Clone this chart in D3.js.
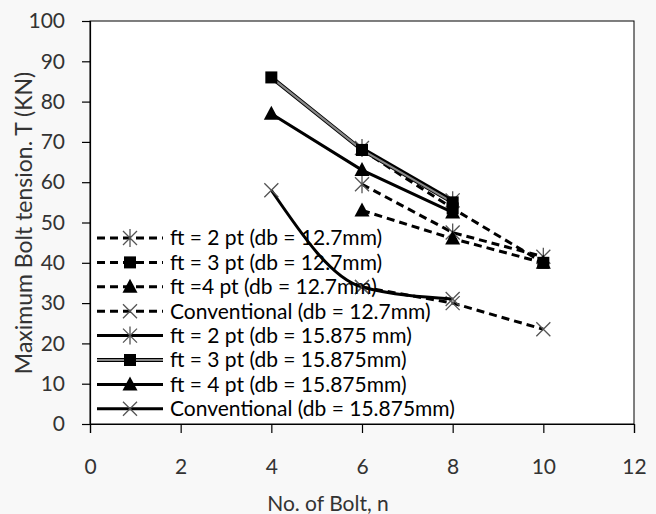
<!DOCTYPE html>
<meta charset="utf-8">
<head>
<script src="https://d3js.org/d3.v7.min.js"></script>
<style>
  body { margin: 0; background: #f8f8f8; font-family: Lato, "Open Sans", sans-serif; }
</style>
</head>
<body>
<svg></svg>
<script>
// data
var xTicks = [0, 2, 4, 6, 8, 10, 12];
var yTicks = [0, 10, 20, 30, 40, 50, 60, 70, 80, 90, 100];

var dashFt2X = [6, 8, 10],  dashFt2Y = [59.5, 47.5, 41.5];
var dashFt3X = [6, 8, 10],  dashFt3Y = [68, 53.5, 40];
var dashFt4X = [6, 8, 10],  dashFt4Y = [53, 46, 40];
var dashConvX = [6, 8, 10], dashConvY = [34, 30, 23.5];
var solFt2X = [6, 8],       solFt2Y = [68.5, 55.5];
var solFt3X = [4, 6, 8],    solFt3Y = [86, 68, 55];
var solFt4X = [4, 6, 8],    solFt4Y = [77, 63, 52.5];
var solConvX = [4, 6, 8],   solConvY = [58, 34, 31];

var labels = [
  "ft = 2 pt (db = 12.7mm)",
  "ft = 3 pt (db = 12.7mm)",
  "ft =4 pt (db = 12.7mm)",
  "Conventional (db = 12.7mm)",
  "ft = 2 pt (db = 15.875 mm)",
  "ft = 3  pt (db = 15.875mm)",
  "ft = 4 pt (db = 15.875mm)",
  "Conventional (db = 15.875mm)"
];

var series = [
  {x: dashFt2X, y: dashFt2Y, m: "star", dash: true, color: "#000"},
  {x: dashFt3X, y: dashFt3Y, m: "square", dash: true, color: "#000"},
  {x: dashFt4X, y: dashFt4Y, m: "tri", dash: true, color: "#000"},
  {x: dashConvX, y: dashConvY, m: "x", dash: true, color: "#000"},
  {x: solFt2X, y: solFt2Y, m: "star", dash: false, color: "#000"},
  {x: solFt3X, y: solFt3Y, m: "square", dash: false, color: "#888"},
  {x: solFt4X, y: solFt4Y, m: "tri", dash: false, color: "#000"},
  {x: solConvX, y: solConvY, m: "x", dash: false, color: "#000", smooth: true}
];

var width = 656, height = 514;
var plotLeft = 90, plotRight = 634, plotTop = 21, plotBottom = 424;

var svg = d3.select("svg").attr("width", width).attr("height", height);

var x = d3.scaleLinear().domain([0, 12]).range([plotLeft, plotRight]);
var y = d3.scaleLinear().domain([0, 100]).range([plotBottom, plotTop]);

svg.append("rect")
  .attr("x", plotLeft).attr("y", plotTop)
  .attr("width", plotRight - plotLeft).attr("height", plotBottom - plotTop)
  .attr("fill", "#fff").attr("stroke", "#000").attr("stroke-width", 1);

// axes
var xAxis = svg.append("g")
  .attr("transform", "translate(0," + plotBottom + ")")
  .call(d3.axisBottom(x).tickValues(xTicks).tickSize(9).tickPadding(26));
var yAxis = svg.append("g")
  .attr("transform", "translate(" + plotLeft + ",0)")
  .call(d3.axisLeft(y).tickValues(yTicks).tickSize(8).tickPadding(17));

[xAxis, yAxis].forEach(function (a) {
  a.select(".domain").attr("stroke", "#000").attr("stroke-width", 1.2);
  a.selectAll(".tick line").attr("stroke", "#000").attr("stroke-width", 1.2);
  a.selectAll("text").attr("font-family", "Lato, sans-serif")
    .attr("font-size", 21).attr("fill", "#333");
});

svg.append("text")
  .attr("x", 328).attr("y", 511)
  .attr("text-anchor", "middle")
  .attr("font-size", 21).attr("fill", "#333")
  .text("No. of Bolt, n");

svg.append("text")
  .attr("transform", "translate(32,223)rotate(-90)")
  .attr("text-anchor", "middle")
  .attr("font-size", 23).attr("fill", "#333")
  .text("Maximum Bolt tension. T (KN)");

function drawMarker(g, type, cx, cy) {
  if (type === "square") {
    g.append("rect").attr("x", cx - 6).attr("y", cy - 6)
      .attr("width", 12).attr("height", 12).attr("fill", "#000");
  } else if (type === "tri") {
    g.append("path")
      .attr("d", "M" + cx + "," + (cy - 8) + "L" + (cx + 7.5) + "," + (cy + 6) + "L" + (cx - 7.5) + "," + (cy + 6) + "Z")
      .attr("fill", "#000");
  } else {
    var s = 7;
    var p = "M" + (cx - s) + "," + (cy - s) + "L" + (cx + s) + "," + (cy + s) +
            "M" + (cx - s) + "," + (cy + s) + "L" + (cx + s) + "," + (cy - s);
    if (type === "star") p += "M" + cx + "," + (cy - 9) + "L" + cx + "," + (cy + 9);
    g.append("path").attr("d", p).attr("stroke", "#555").attr("stroke-width", 1.3).attr("fill", "none");
  }
}

var plot = svg.append("g");

series.forEach(function (s) {
  var pts = s.x.map(function (v, i) { return [v, s.y[i]]; });
  var line = d3.line()
    .x(function (d) { return x(d[0]); })
    .y(function (d) { return y(d[1]); })
    .curve(s.smooth ? d3.curveMonotoneX : d3.curveLinear);
  if (s.color !== "#000") {
    plot.append("path").datum(pts).attr("d", line)
      .attr("fill", "none").attr("stroke", "#000").attr("stroke-width", 4);
  }
  plot.append("path").datum(pts).attr("d", line)
    .attr("fill", "none").attr("stroke", s.color)
    .attr("stroke-width", s.color !== "#000" ? 2.2 : 3)
    .attr("stroke-dasharray", s.dash ? "8,5" : null);
  pts.forEach(function (d) { drawMarker(plot, s.m, x(d[0]), y(d[1])); });
});

// legend
var legend = svg.append("g").selectAll("g")
  .data(series).enter().append("g")
  .attr("transform", function (d, i) { return "translate(97," + (238 + i * 24.4) + ")"; });

legend.each(function (s, i) {
  var g = d3.select(this);
  if (s.color !== "#000") {
    g.append("line").attr("x1", 0).attr("x2", 66).attr("y1", 0).attr("y2", 0)
      .attr("stroke", "#000").attr("stroke-width", 4);
  }
  g.append("line").attr("x1", 0).attr("x2", 66).attr("y1", 0).attr("y2", 0)
    .attr("stroke", s.color).attr("stroke-width", s.color !== "#000" ? 2.2 : 3)
    .attr("stroke-dasharray", s.dash ? "8,5" : null);
  drawMarker(g, s.m, 33, 0);
  g.append("text").attr("x", 73).attr("y", 0).attr("dy", "0.35em")
    .attr("font-size", 21).attr("fill", "#000")
    .text(labels[i]);
});
</script>
</body>
</html>
